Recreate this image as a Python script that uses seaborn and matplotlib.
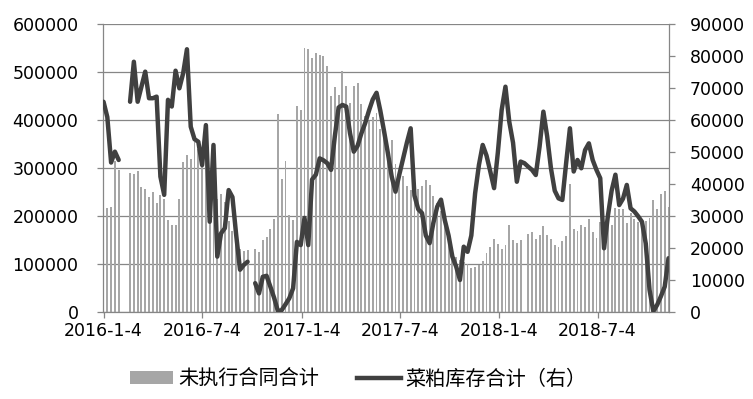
import numpy as np
import pandas as pd
import matplotlib
matplotlib.use("Agg")
import matplotlib.pyplot as plt
import seaborn as sns
from matplotlib.patches import Patch
from matplotlib.lines import Line2D

# ---------------- data ----------------
start_date = "2016-01-04"
n_weeks = 150
nan = np.nan

# 未执行合同合计 (left axis), weekly
contracts = [
    218000, 217000, 219000, 315000, 296000, nan, nan, 291000, 288000, 295000,
    260000, 257000, 240000, 251000, 228000, 244000, 236000, 192000, 182000, 182000,
    236000, 313000, 328000, 320000, 354000, 341000, 335000, 319000, 283000, 276000,
    236000, 246000, 230000, 190000, 169000, 151000, 132000, 128000, 130000, nan,
    132000, 125000, 151000, 156000, 173000, 194000, 413000, 278000, 315000, 203000,
    192000, 430000, 421000, 550000, 548000, 529000, 540000, 536000, 533000, 513000,
    451000, 469000, 453000, 503000, 472000, 435000, 472000, 477000, 434000, 408000,
    399000, 406000, 415000, 382000, 365000, 342000, 359000, 309000, 292000, 284000,
    263000, 255000, 252000, 256000, 263000, 276000, 265000, 242000, 228000, 210000,
    180000, 162000, 130000, 116000, 109000, 105000, 100000, 92000, 94000, 99000,
    107000, 123000, 135000, 152000, 142000, 131000, 140000, 182000, 151000, 144000,
    151000, nan, 163000, 167000, 152000, 160000, 180000, 160000, 152000, 140000,
    135000, 149000, 159000, 267000, 173000, 169000, 181000, 178000, 194000, 168000,
    154000, 189000, 172000, 185000, 182000, 217000, 215000, 215000, 185000, 206000,
    194000, 189000, 190000, 190000, 196000, 234000, 215000, 247000, 253000, 220000,
]

# 菜粕库存合计 (right axis), weekly
stock = [
    65800, 61000, 46800, 50200, 47600, nan, nan, 65800, 78300, 65800,
    70500, 75200, 66900, 66900, 67400, 42400, 36700, 66400, 64300, 75500,
    70000, 74700, 82200, 58000, 54100, 53300, 46000, 58500, 28300, 52300,
    17400, 24700, 26300, 38200, 36000, 24000, 13300, 14800, 15800, nan,
    9100, 5900, 11100, 11400, 8000, 4500, 300, 700, 2500, 4400,
    7500, 22000, 21000, 29500, 21000, 41500, 43000, 48100, 47500, 46600,
    44500, 55000, 64000, 64800, 64300, 56000, 50200, 52000, 55900, 59100,
    63000, 66500, 68600, 63000, 56500, 49700, 42400, 37700, 43000, 48000,
    53000, 57500, 36500, 32200, 31000, 24000, 21600, 28000, 33000, 35200,
    28800, 24000, 17400, 14300, 10100, 20500, 18900, 24000, 37200, 46000,
    52300, 49000, 44000, 38800, 50000, 63200, 70500, 59600, 53000, 40800,
    47100, 46600, 45500, 44500, 42900, 51800, 62700, 55000, 45000, 38000,
    35600, 35100, 46600, 57500, 44000, 47600, 45000, 50700, 52800, 47600,
    44500, 41900, 20000, 30000, 38000, 43000, 33500, 35500, 39800, 32500,
    31500, 30000, 28300, 21500, 7000, 300, 2300, 5000, 8000, 16900,
]

x_tick_labels = ["2016-1-4", "2016-7-4", "2017-1-4", "2017-7-4", "2018-1-4", "2018-7-4"]
left_ticks = [0, 100000, 200000, 300000, 400000, 500000, 600000]
right_ticks = [0, 10000, 20000, 30000, 40000, 50000, 60000, 70000, 80000, 90000]
legend_labels = ["未执行合同合计", "菜粕库存合计（右）"]

# ---------------- styling ----------------
BAR_COLOR = "#a6a6a6"
LINE_COLOR = "#404040"
AXIS_COLOR = "#868686"

plt.rcParams["font.family"] = ["DejaVu Sans", "Noto Sans CJK SC"]

dates = pd.date_range(start_date, periods=n_weeks, freq="7D")
day = np.asarray((dates - dates[0]).days, dtype=float)
df = pd.DataFrame({"day": day, "contracts": contracts, "stock": stock})

fig = plt.figure(figsize=(7.53, 3.99), dpi=100)
ax = fig.add_axes([0.1364, 0.2173, 0.7521, 0.7218])

bar_df = df.dropna(subset=["contracts"])
sns.barplot(data=bar_df, x="day", y="contracts", native_scale=True, width=0.5,
            color=BAR_COLOR, saturation=1, errorbar=None, linewidth=0, ax=ax)

ax2 = ax.twinx()
line_df = df.assign(seg=df["stock"].isna().cumsum()).dropna(subset=["stock"])
sns.lineplot(data=line_df, x="day", y="stock", units="seg", estimator=None,
             color=LINE_COLOR, linewidth=3.2, legend=False, ax=ax2,
             solid_joinstyle="round", solid_capstyle="round")

# axes limits / ticks
ax.set_xlim(-1.5, 1044)
ax.set_ylim(left_ticks[0], left_ticks[-1])
ax2.set_ylim(right_ticks[0], right_ticks[-1])

tick_dates = pd.to_datetime(x_tick_labels, format="%Y-%m-%d")
tick_days = [(d - dates[0]).days for d in tick_dates]
ax.set_xticks(tick_days)
ax.set_xticklabels(x_tick_labels)
ax.set_yticks(left_ticks)
ax.set_yticklabels([str(v) for v in left_ticks])
ax2.set_yticks(right_ticks)
ax2.set_yticklabels([str(v) for v in right_ticks])

for a in (ax, ax2):
    a.set_xlabel("")
    a.set_ylabel("")

ax.yaxis.grid(True, color=AXIS_COLOR, linewidth=0.9)
ax.xaxis.grid(False)
ax.set_axisbelow(True)

for s in ("top", "right"):
    ax.spines[s].set_visible(False)
for s in ("left", "bottom"):
    ax.spines[s].set_color(AXIS_COLOR)
    ax.spines[s].set_linewidth(0.9)
for s in ("top", "left", "bottom"):
    ax2.spines[s].set_visible(False)
ax2.spines["right"].set_color(AXIS_COLOR)
ax2.spines["right"].set_linewidth(0.9)

ax.tick_params(axis="y", length=4, width=0.9, color=AXIS_COLOR, pad=13.5,
               labelsize=12.5, labelcolor="black")
ax.tick_params(axis="x", length=4, width=0.9, color=AXIS_COLOR, pad=3,
               labelsize=12.5, labelcolor="black")
ax2.tick_params(axis="y", length=4, width=0.9, color=AXIS_COLOR, pad=11,
                labelsize=12.5, labelcolor="black")

handles = [Patch(facecolor=BAR_COLOR, edgecolor="none"),
           Line2D([], [], color=LINE_COLOR, linewidth=3.2)]
fig.legend(handles, legend_labels, loc="center", bbox_to_anchor=(0.476, 0.05),
           ncol=2, frameon=False,
           prop={"family": ["Noto Sans CJK SC", "DejaVu Sans"], "size": 14.5},
           handlelength=2.15, handleheight=0.65, handletextpad=0.25,
           columnspacing=1.9)

fig.savefig("out.png", dpi=100)
